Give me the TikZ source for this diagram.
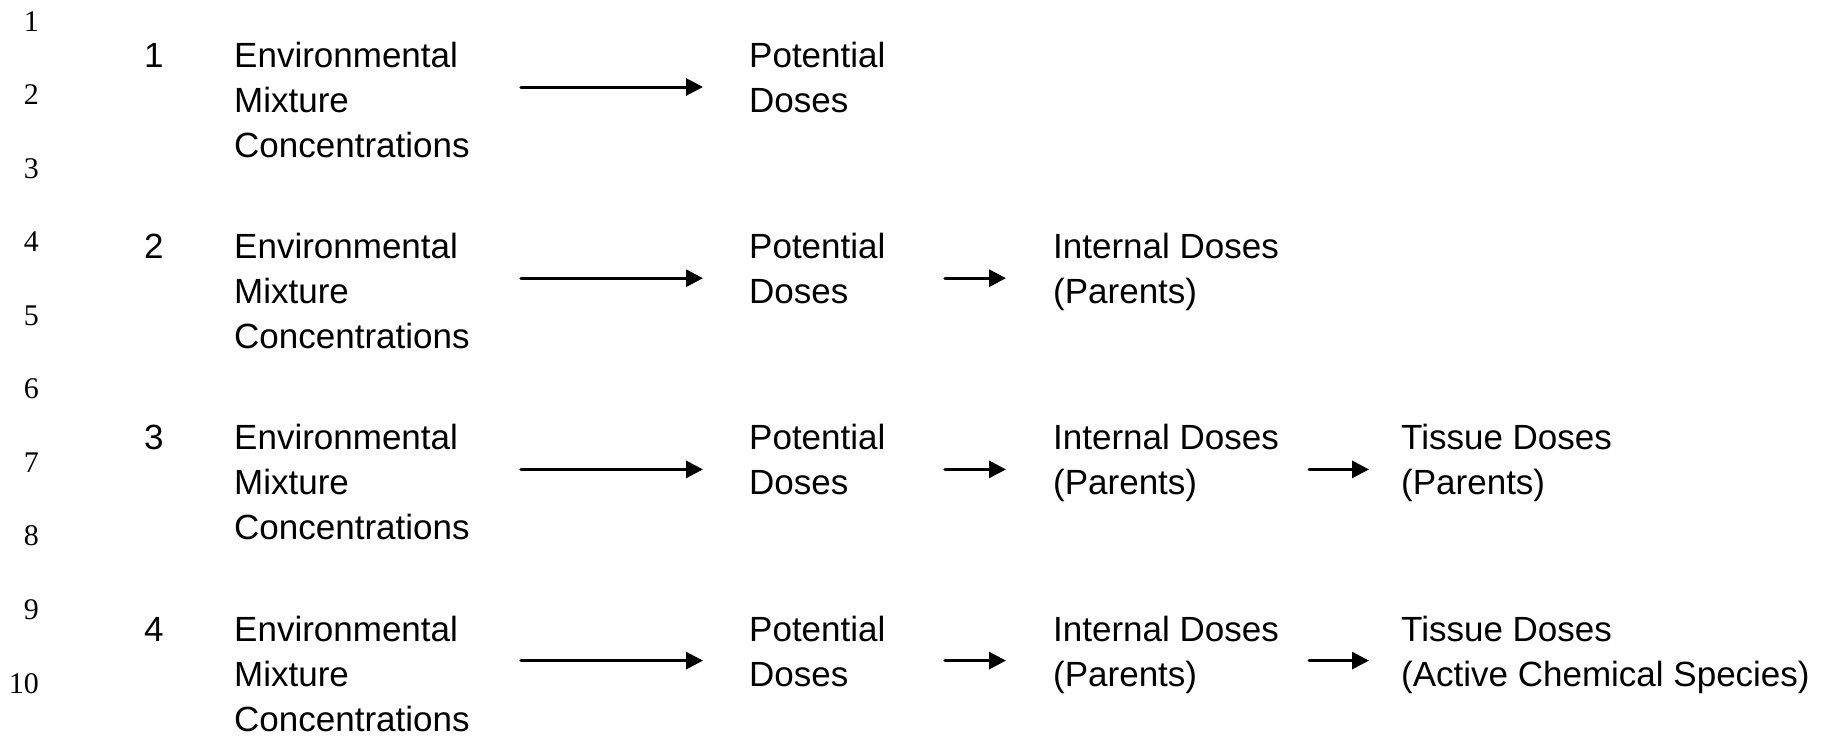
\documentclass[tikz,border=0pt]{standalone}
\usepackage{fontspec}
\setmainfont{Liberation Sans}
\newfontfamily\lnfont{Liberation Serif}
\usetikzlibrary{arrows.meta,calc}

% stacked lines with a fixed 45pt baseline distance; the box baseline is the first line
\newcommand{\stackii}[2]{\vtop{\baselineskip=45pt\lineskiplimit=-100pt\hbox{#1}\hbox{#2}}}
\newcommand{\stackiii}[3]{\vtop{\baselineskip=45pt\lineskiplimit=-100pt\hbox{#1}\hbox{#2}\hbox{#3}}}

\tikzset{
  lab/.style={anchor=base west, inner sep=0pt, font=\fontsize{35}{45}\selectfont},
  lnum/.style={anchor=base east, inner sep=0pt, font=\lnfont\fontsize{30}{36}\selectfont},
  flow/.style={line width=3pt, line cap=round, -{Triangle[length=17pt,width=17pt]}},
}

\begin{document}
\begin{tikzpicture}[x=1pt,y=-1pt]
\useasboundingbox (0,0) rectangle (1834,736);

% margin line numbers
\foreach \k in {1,...,10}
  \node[lnum] (ln\k) at (39, {31+73.56*(\k-1)}) {\k};

% row 1
\node[lab] (n1) at (144,67.5) {1};
\node[lab] (e1) at (234,67.5) {\stackiii{Environmental}{Mixture}{Concentrations}};
\node[lab] (p1) at (749,67.5) {\stackii{Potential}{Doses}};

% row 2
\node[lab] (n2) at (144,258.7) {2};
\node[lab] (e2) at (234,258.7) {\stackiii{Environmental}{Mixture}{Concentrations}};
\node[lab] (p2) at (749,258.7) {\stackii{Potential}{Doses}};
\node[lab] (i2) at (1053,258.7) {\stackii{Internal Doses}{(Parents)}};

% row 3
\node[lab] (n3) at (144,449.9) {3};
\node[lab] (e3) at (234,449.9) {\stackiii{Environmental}{Mixture}{Concentrations}};
\node[lab] (p3) at (749,449.9) {\stackii{Potential}{Doses}};
\node[lab] (i3) at (1053,449.9) {\stackii{Internal Doses}{(Parents)}};
\node[lab] (t3) at (1401,449.9) {\stackii{Tissue Doses}{(Parents)}};

% row 4
\node[lab] (n4) at (144,641.1) {4};
\node[lab] (e4) at (234,641.1) {\stackiii{Environmental}{Mixture}{Concentrations}};
\node[lab] (p4) at (749,641.1) {\stackii{Potential}{Doses}};
\node[lab] (i4) at (1053,641.1) {\stackii{Internal Doses}{(Parents)}};
\node[lab] (t4) at (1401,641.1) {\stackii{Tissue Doses}{(Active Chemical Species)}};

% arrows between the stages
\foreach \r in {1,2,3,4}
  \draw[flow] ($(e\r.base east)+(51,19.5)$) -- ($(p\r.base west)+(-46,19.5)$);
\foreach \r in {2,3,4}
  \draw[flow] ($(p\r.base east)+(59.3,19.5)$) -- ($(i\r.base west)+(-47,19.5)$);
\foreach \r in {3,4}
  \draw[flow] ($(i\r.base east)+(30,19.5)$) -- ($(t\r.base west)+(-32,19.5)$);
\end{tikzpicture}
\end{document}
